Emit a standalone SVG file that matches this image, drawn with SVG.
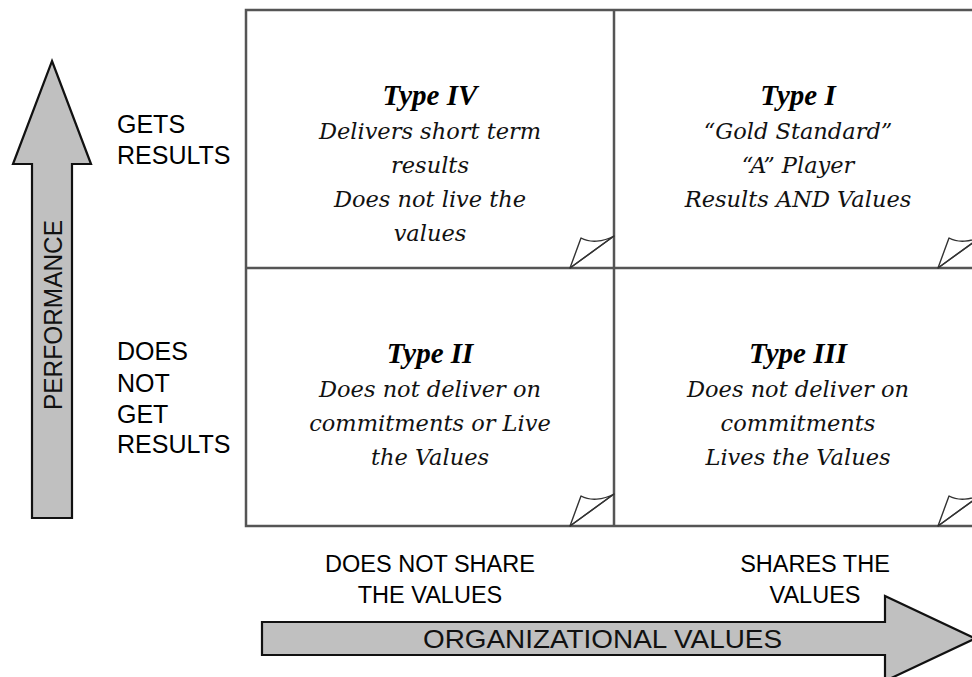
<svg xmlns="http://www.w3.org/2000/svg" width="972" height="677" viewBox="0 0 972 677">
  <style>
    .grid { fill: none; stroke: #555555; stroke-width: 2.5; }
    .fold { fill: #ffffff; stroke: #333333; stroke-width: 1.4; stroke-linejoin: round; }
    .arrow { fill: #c0c0c0; stroke: #111111; stroke-width: 2.2; stroke-linejoin: miter; }
    .title { font-family: "Liberation Serif", "Times New Roman", serif; font-weight: bold; font-style: italic; font-size: 29px; fill: #000; text-anchor: middle; }
    .body { font-family: "DejaVu Serif", "Liberation Serif", serif; font-style: italic; font-size: 22.5px; fill: #111; text-anchor: middle; }
    .axis { font-family: "Liberation Sans", Arial, sans-serif; font-size: 25px; fill: #000; }
    .bottom { font-family: "Liberation Sans", Arial, sans-serif; font-size: 23.5px; fill: #000; text-anchor: middle; }
    .arrowlabel { font-family: "Liberation Sans", Arial, sans-serif; font-size: 25px; fill: #111; }
  </style>

  <rect width="972" height="677" fill="#ffffff"/>

  <!-- quadrant grid -->
  <g id="grid">
    <rect class="grid" x="246" y="10" width="736" height="516"/>
    <line class="grid" x1="614" y1="10" x2="614" y2="526"/>
    <line class="grid" x1="246" y1="268" x2="982" y2="268"/>
  </g>

  <!-- Type IV (top left) -->
  <g id="type-iv">
    <path class="fold" d="M570,268 L581,238 C590,243 603,242 614,236 Z"/>
    <line class="fold" x1="570" y1="268" x2="614" y2="236"/>
    <text class="title" x="430" y="105">Type IV</text>
    <text class="body" x="430" y="139">Delivers short term</text>
    <text class="body" x="430" y="173">results</text>
    <text class="body" x="430" y="207">Does not live the</text>
    <text class="body" x="430" y="241">values</text>
  </g>

  <!-- Type I (top right) -->
  <g id="type-i">
    <path class="fold" d="M938,268 L949,238 C958,243 971,242 982,236 Z"/>
    <line class="fold" x1="938" y1="268" x2="982" y2="236"/>
    <text class="title" x="798" y="105">Type I</text>
    <text class="body" x="798" y="139">“Gold Standard”</text>
    <text class="body" x="798" y="173">“A” Player</text>
    <text class="body" x="798" y="207">Results AND Values</text>
  </g>

  <!-- Type II (bottom left) -->
  <g id="type-ii">
    <path class="fold" d="M570,526 L581,496 C590,501 603,500 614,494 Z"/>
    <line class="fold" x1="570" y1="526" x2="614" y2="494"/>
    <text class="title" x="430" y="363">Type II</text>
    <text class="body" x="430" y="397">Does not deliver on</text>
    <text class="body" x="430" y="431">commitments or Live</text>
    <text class="body" x="430" y="465">the Values</text>
  </g>

  <!-- Type III (bottom right) -->
  <g id="type-iii">
    <path class="fold" d="M938,526 L949,496 C958,501 971,500 982,494 Z"/>
    <line class="fold" x1="938" y1="526" x2="982" y2="494"/>
    <text class="title" x="798" y="363">Type III</text>
    <text class="body" x="798" y="397">Does not deliver on</text>
    <text class="body" x="798" y="431">commitments</text>
    <text class="body" x="798" y="465">Lives the Values</text>
  </g>

  <!-- axis arrows -->
  <g id="axes">
    <g id="performance-axis">
      <polygon class="arrow" points="52,61 91,164 72,164 72,518 32,518 32,164 13,164"/>
      <text class="arrowlabel" transform="translate(62,315) rotate(-90)" text-anchor="middle" font-size="30" textLength="190" lengthAdjust="spacingAndGlyphs">PERFORMANCE</text>
    </g>
    <g id="values-axis">
      <polygon class="arrow" points="262,622 885,622 885,596 975,638.5 885,681 885,655 262,655"/>
      <text class="arrowlabel" x="423" y="648" textLength="359" lengthAdjust="spacingAndGlyphs">ORGANIZATIONAL VALUES</text>
    </g>
  </g>

  <!-- performance levels -->
  <g id="perf-high">
    <text class="axis" x="117" y="133">GETS</text>
    <text class="axis" x="117" y="164">RESULTS</text>
  </g>
  <g id="perf-low">
    <text class="axis" x="117" y="360">DOES</text>
    <text class="axis" x="117" y="392">NOT</text>
    <text class="axis" x="117" y="423">GET</text>
    <text class="axis" x="117" y="453">RESULTS</text>
  </g>

  <!-- values levels -->
  <g id="values-low">
    <text class="bottom" x="430" y="572">DOES NOT SHARE</text>
    <text class="bottom" x="430" y="603">THE VALUES</text>
  </g>
  <g id="values-high">
    <text class="bottom" x="815" y="572">SHARES THE</text>
    <text class="bottom" x="815" y="603">VALUES</text>
  </g>
</svg>
